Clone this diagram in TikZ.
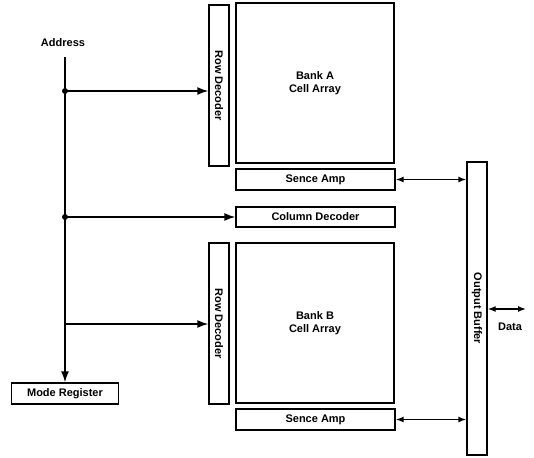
\documentclass[tikz,border=0pt]{standalone}
\usepackage{fontspec}
\setmainfont{Liberation Sans}
\usetikzlibrary{arrows.meta,calc,positioning}
\tikzset{
  blk/.style={draw,line width=1.4pt,inner sep=0pt,font=\bfseries\fontsize{11}{13}\selectfont},
  wire/.style={line width=1.4pt},
  tip/.style={-{Latex[length=11pt,width=8pt]}},
  dtip/.style={{Latex[length=8pt,width=6pt]}-{Latex[length=8pt,width=6pt]}},
  lbl/.style={font=\bfseries\fontsize{11}{13}\selectfont}
}

\begin{document}
\begin{tikzpicture}[x=1pt,y=-1pt]
  \useasboundingbox (0,0) rectangle (534,457);
  % bank A
  \node[blk,minimum width=20pt,minimum height=161pt] (rowdecA) at (219,85.5) {};
  \node[lbl,rotate=-90] at (rowdecA) {Row Decoder};
  \node[blk,minimum width=158pt,minimum height=160pt,align=center] (bankA) at (315,83) {Bank A\\Cell Array};
  \node[blk,minimum width=159pt,minimum height=21pt] (senseA) at (315.5,179.5) {Sence Amp};
  % shared column decoder
  \node[blk,minimum width=159pt,minimum height=20pt] (coldec) at (315.5,217) {Column Decoder};
  % bank B
  \node[blk,minimum width=20pt,minimum height=161pt] (rowdecB) at (219,323.5) {};
  \node[lbl,rotate=-90] at (rowdecB) {Row Decoder};
  \node[blk,minimum width=158pt,minimum height=160pt,align=center] (bankB) at (315,323) {Bank B\\Cell Array};
  \node[blk,minimum width=159pt,minimum height=21pt] (senseB) at (315.5,419.5) {Sence Amp};
  % output side
  \node[blk,minimum width=20pt,minimum height=293pt] (outbuf) at (477,308.5) {};
  \node[lbl,rotate=-90] at (outbuf) {Output Buffer};
  \node[blk,minimum width=107pt,minimum height=21pt] (modereg) at (65,393.5) {Mode Register};
  % address bus
  \node[lbl] (addr) at (63,43) {Address};
  \coordinate (bustop) at (65,57);
  \coordinate (ja) at (65,91);
  \coordinate (jc) at (65,217);
  \coordinate (jb) at (65,324);
  \draw[wire,tip] (bustop) -- (modereg.north);
  \draw[wire,tip] (ja) -- (ja -| rowdecA.west);
  \draw[wire,tip] (jc) -- (coldec.west);
  \draw[wire,tip] (jb) -- (jb -| rowdecB.west);
  \fill (ja) circle (3pt) (jc) circle (3pt);
  % data paths
  \draw[wire,dtip] (senseA.east) -- (senseA.east -| outbuf.west);
  \draw[wire,dtip] (senseB.east) -- (senseB.east -| outbuf.west);
  \coordinate (dataend) at (526,309);
  \draw[wire,dtip] (outbuf.east |- dataend) -- (dataend);
  \node[lbl] (data) at (510,327) {Data};
\end{tikzpicture}
\end{document}
